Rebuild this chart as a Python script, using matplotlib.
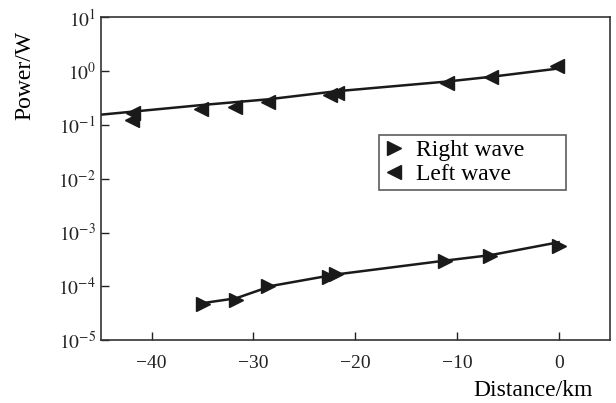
import numpy as np
import matplotlib.pyplot as plt

# right wave (markers + line)
right_x = [-34.9, -31.7, -28.6, -22.6, -21.9, -11.2, -6.7, 0.0]
right_p = [4.6e-5, 5.6e-5, 1.0e-4, 1.5e-4, 1.7e-4, 2.9e-4, 3.7e-4, 5.6e-4]
right_line_x = [-34.9, -31.7, -28.2, -22.0, -11.2, -6.7, 0.0]
right_line_p = [4.9e-5, 6.0e-5, 1.02e-4, 1.65e-4, 3.0e-4, 3.8e-4, 6.6e-4]

# left wave (markers + line)
left_x = [-41.8, -41.9, -35.1, -31.8, -28.6, -22.5, -21.8, -11.0, -6.6, -0.2]
left_p = [0.165, 0.125, 0.20, 0.215, 0.27, 0.36, 0.39, 0.60, 0.78, 1.27]
left_line_x = [-45.0, -35.0, -28.5, -22.0, -11.0, -6.5, 0.0]
left_line_p = [0.155, 0.235, 0.30, 0.42, 0.64, 0.79, 1.12]

plt.rcParams['font.family'] = 'serif'
plt.rcParams['font.serif'] = ['Liberation Serif', 'DejaVu Serif']
plt.rcParams['mathtext.fontset'] = 'stix'

fig = plt.figure(figsize=(6.16, 4.03), dpi=100)
ax = fig.add_axes([0.1635, 0.156, 0.826, 0.801])

col = '#1a1a1a'
ax.plot(right_line_x, right_line_p, color=col, lw=1.8, zorder=2)
ax.plot(left_line_x, left_line_p, color=col, lw=1.8, zorder=2)
ax.plot(right_x, right_p, ls='none', marker='>', ms=10, color=col,
        label='Right wave', zorder=3)
ax.plot(left_x, left_p, ls='none', marker='<', ms=10, color=col,
        label='Left wave', zorder=3)

ax.set_yscale('log')
ax.set_xlim(-45, 5)
ax.set_ylim(1e-5, 1e1)
ax.set_xticks([-40, -30, -20, -10, 0])
ax.set_xticklabels(['\u221240', '\u221230', '\u221220', '\u221210', '0'])
ax.set_yticks([1e-5, 1e-4, 1e-3, 1e-2, 1e-1, 1e0, 1e1])
ax.set_yticklabels([r'$10^{%d}$' % e for e in range(-5, 2)])
ax.yaxis.set_minor_locator(plt.NullLocator())
ax.tick_params(direction='in', length=6, width=1, labelsize=14, colors='#222222')
ax.tick_params(axis='x', pad=11)
for s in ax.spines.values():
    s.set_color('#333333')
    s.set_linewidth(1.2)

ax.set_xlabel('Distance/km', fontsize=17)
ax.xaxis.set_label_coords(0.967, -0.155)
ax.xaxis.label.set_ha('right')
ax.xaxis.label.set_va('center')
ax.set_ylabel('Power/W', fontsize=17)
ax.yaxis.set_label_coords(-0.149, 0.82)
ax.yaxis.label.set_va('center')

leg = ax.legend(loc='upper left', bbox_to_anchor=(0.546, 0.47, 0.368, 0.165),
                mode='expand', fontsize=17,
                frameon=True, fancybox=False, handlelength=0.9,
                handletextpad=0.5, borderpad=0.2, labelspacing=0.1,
                borderaxespad=0)
leg.get_frame().set_edgecolor('#333333')
leg.get_frame().set_linewidth(1.2)

plt.savefig('out.png', dpi=100)
